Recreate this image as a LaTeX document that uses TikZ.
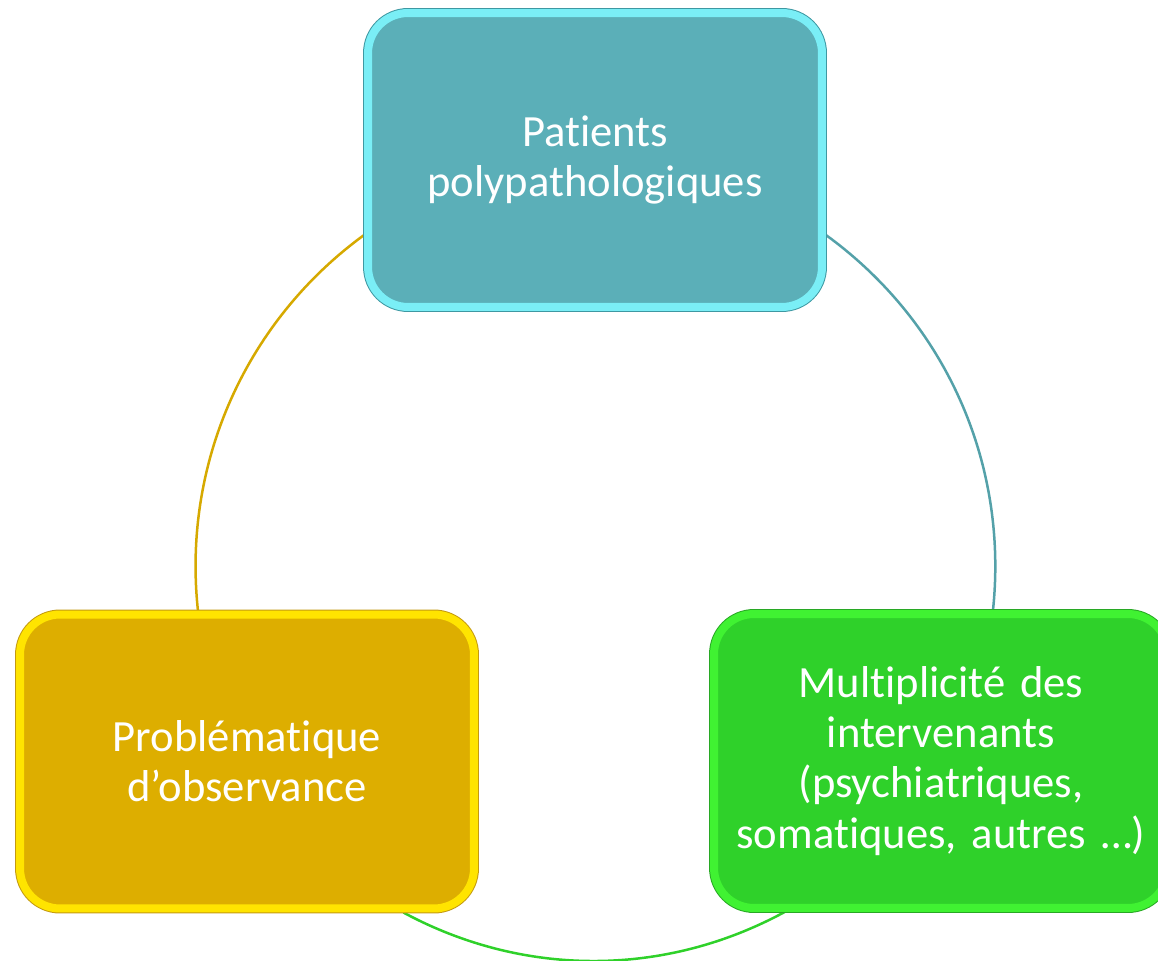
\documentclass[tikz,border=0pt]{standalone}
\usepackage{fontspec}
\setmainfont[Ligatures=NoCommon]{Carlito}
\usepackage{xcolor}
\usetikzlibrary{backgrounds}

\definecolor{tealfill}{HTML}{5BAFB8}
\definecolor{tealband}{HTML}{7AEEF6}
\definecolor{tealedge}{HTML}{3E98A2}
\definecolor{goldfill}{HTML}{DDAE00}
\definecolor{goldband}{HTML}{FFE400}
\definecolor{goldedge}{HTML}{C49A10}
\definecolor{greenfill}{HTML}{2FD12A}
\definecolor{greenband}{HTML}{40F232}
\definecolor{greenedge}{HTML}{28A824}

\begin{document}
\begin{tikzpicture}[
    x=0.02cm, y=0.02cm,
    card/.style={rectangle, rounded corners=0.8cm, minimum width=9.08cm, minimum height=5.88cm,
        text width=8.6cm, align=center, text=white, font=\fontsize{25.4}{28.5}\selectfont,
        line width=0.16cm},
    tealcard/.style={card, fill=tealfill, draw=tealband, preaction={draw=tealedge, line width=0.2cm}},
    goldcard/.style={card, fill=goldfill, draw=goldband, preaction={draw=goldedge, line width=0.2cm}},
    greencard/.style={card, fill=greenfill, draw=greenband, preaction={draw=greenedge, line width=0.2cm}},
    link/.style={line width=0.05cm, bend right=30, looseness=0.92}
]
    \useasboundingbox (0,0) rectangle (1158,960);

    \node[tealcard] (patients) at (595,800) {Patients\\polypathologiques};
    \node[goldcard] (observance) at (247,198.5) {Problématique\\d’observance};
    \node[greencard] (intervenants) at (941,199) {Multiplicité des\\intervenants\\(psychiatriques,\\somatiques, autres …)};

    % arcs of the circle, behind the cards
    \begin{pgfonlayer}{background}
        \draw[link, goldfill!97!black] (patients.198) to (observance.108);
        \draw[link, bend right=28.4, greenfill] (observance.-44) to (intervenants.224.6);
        \draw[link, tealfill!92!black] (intervenants.71.6) to (patients.-18);
    \end{pgfonlayer}
\end{tikzpicture}
\end{document}
